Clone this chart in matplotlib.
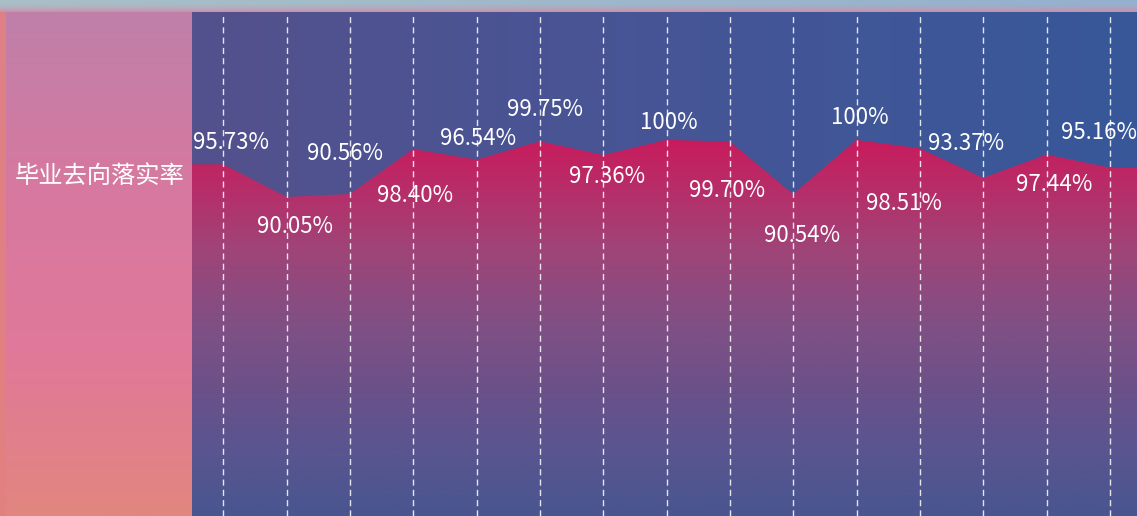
import numpy as np
import matplotlib
matplotlib.use("Agg")
import matplotlib.pyplot as plt
from matplotlib.colors import to_rgb, LinearSegmentedColormap
from matplotlib.patches import Polygon

plt.rcParams['font.family'] = ['Noto Sans CJK SC', 'DejaVu Sans']
plt.rcParams['lines.scale_dashes'] = False

# data
row_title = "毕业去向落实率"
rates = [95.73, 90.05, 90.56, 98.40, 96.54, 99.75, 97.36, 100,
         99.70, 90.54, 100, 98.51, 93.37, 97.44, 95.16]
labels = ["100%" if r == 100 else f"{r:.2f}%" for r in rates]

# label offsets from each point, in pixels (dx right, dy down to baseline)
label_dx = [8, 8.5, -5, 1.5, 1.5, 5.5, 4, 2.5, -3, 8.5, 3.5, -16, -17.5, 7.5, -11]
label_dy = [-15, 36, -34, 53, -15, -25, 28, -11, 55, 48, -16, 62, -28, 36, -29]

W, H = 1137, 516
fig = plt.figure(figsize=(W / 100, H / 100), dpi=100)

# background panels
bg = fig.add_axes([0, 0, 1, 1])
bg.set_xlim(0, W)
bg.set_ylim(H, 0)
bg.axis('off')


def vgrad(c_list, n=256):
    cmap = LinearSegmentedColormap.from_list('g', c_list)
    return cmap(np.linspace(0, 1, n))[:, None, :]


# top strip: 2D gradient
top_l = np.array(to_rgb('#a9c0c7'))
top_r = np.array(to_rgb('#93b1cf'))
bot = np.array(to_rgb('#cf8ea9'))
nx, ny = 64, 32
tx = np.linspace(0, 1, nx)[None, :, None]
ty = np.linspace(0, 1, ny)[:, None, None] ** 2.5
top_row = top_l * (1 - tx) + top_r * tx
strip = top_row * (1 - ty) + bot * ty
bg.imshow(strip, extent=(0, W, 12, 0), aspect='auto', interpolation='bilinear')

# left edge strip and left panel
bg.imshow(vgrad(['#df8087', '#e2807f']), extent=(0, 6, H, 12), aspect='auto')
bg.imshow(vgrad(['#bf80a9', '#d679a0', '#e0789a', '#e2867f']),
          extent=(6, 192, H, 12), aspect='auto')
bg.text(100, 176, row_title, color='white', fontsize=17.5,
        ha='center', va='center')

# main chart
ax = fig.add_axes([191.5 / W, 0, 950 / W, 504 / H])
ax.patch.set_alpha(0)
ax.axis('off')
x = np.arange(len(rates))
y_lo, y_hi = 34.4, 122.3
ax.set_xlim(-0.5, len(rates) - 0.5)
ax.set_ylim(y_lo, y_hi)

hmap = LinearSegmentedColormap.from_list('h', ['#54518d', '#465596', '#375899'])
hgrad = hmap(np.linspace(0, 1, 256))[None, :, :]
ax.imshow(hgrad, extent=(-0.5, len(rates) - 0.5, y_lo, y_hi),
          aspect='auto', zorder=0)

# area with crimson-to-blue vertical gradient
xe = np.concatenate([[x[0] - 0.5], x, [x[-1] + 0.5]])
ye = np.concatenate([[rates[0]], rates, [rates[-1]]])
verts = np.column_stack([np.concatenate([xe, [xe[-1], xe[0]]]),
                         np.concatenate([ye, [y_lo, y_lo]])])
poly = Polygon(verts, closed=True, facecolor='none', edgecolor='none')
ax.add_patch(poly)
fmap = LinearSegmentedColormap.from_list('f', [
    (0.0, '#c91b5c'), (0.29, '#a04478'), (0.505, '#7e5085'),
    (0.64, '#6e5088'), (0.82, '#5a5590'), (1.0, '#49558f')])
fill = fmap(np.linspace(0, 1, 256))[:, None, :]
im = ax.imshow(fill, extent=(-0.5, len(rates) - 0.5, y_lo, 100),
               aspect='auto', zorder=1)
im.set_clip_path(poly)

ax.vlines(x, y_lo, y_hi - 0.5, colors='white', linewidth=1.0, alpha=0.85,
          linestyles=(0, (4.4, 3.0)), zorder=2)

for xi, r, lab, dx, dy in zip(x, rates, labels, label_dx, label_dy):
    ax.annotate(lab, (xi, r), xytext=(dx, -dy), textcoords='offset pixels',
                ha='center', va='baseline', color='white', fontsize=16,
                zorder=3)

fig.savefig('out.png', dpi=100)
